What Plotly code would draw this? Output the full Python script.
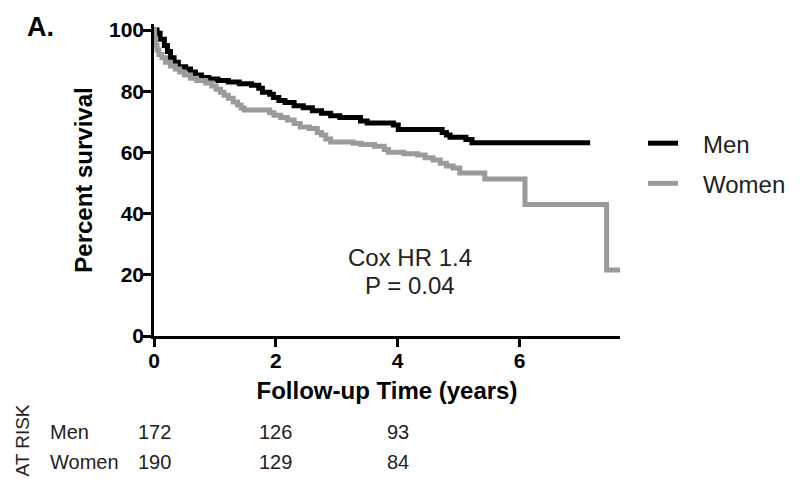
import plotly.graph_objects as go

# ---- data ----
men_t = [0, 0.05, 0.10, 0.17, 0.22, 0.27, 0.33, 0.40, 0.52, 0.60, 0.68, 0.78, 0.90,
         1.05, 1.22, 1.40, 1.60, 1.72, 1.78, 1.90, 1.96, 2.05, 2.15, 2.30, 2.45, 2.60,
         2.75, 2.90, 3.05, 3.39, 3.50, 3.93, 4.01, 4.73, 4.80, 4.86, 5.12, 5.22, 7.16]
men_s = [100, 99, 97, 95, 93, 91, 89.5, 88, 87.3, 86.3, 85.3, 84.5, 84,
         83.5, 83, 82.5, 82, 81, 79.7, 79, 78, 77, 76.3, 75.3, 74.6, 73.6,
         72.8, 72, 71.4, 70.3, 69.6, 69, 67.5, 66.5, 65.7, 65, 64.2, 63.2, 63.2]

women_t = [0, 0.01, 0.03, 0.05, 0.08, 0.13, 0.19, 0.27, 0.35, 0.42, 0.50, 0.60, 0.70,
           0.85, 0.95, 1.02, 1.09, 1.15, 1.22, 1.30, 1.37, 1.43, 1.48, 1.90, 1.97,
           2.08, 2.19, 2.30, 2.40, 2.55, 2.68, 2.75, 2.82, 2.90, 3.27, 3.40, 3.62,
           3.78, 3.85, 4.10, 4.33, 4.45, 4.58, 4.70, 4.80, 4.91, 5.02, 5.43, 6.09,
           7.43, 7.65]
women_s = [100, 97, 95, 93.5, 92, 91, 89.5, 88.3, 87.3, 86.3, 85.3, 84.3, 83.5,
           82.7, 81.7, 80.7, 79.7, 78.7, 77.7, 76.5, 75.5, 74.5, 73.9, 73.0, 72.2,
           71.4, 70.6, 69.5, 68.3, 67.8, 66.5, 65.7, 64.4, 63.4, 63.0, 62.6, 62.0,
           61.0, 60.1, 59.6, 59.2, 58.3, 57.5, 56.5, 55.6, 54.9, 53.3, 51.3, 43.0,
           21.6, 21.6]

risk_times = [0, 2, 4]
risk_men = [172, 126, 93]
risk_women = [190, 129, 84]

x_ticks = [0, 2, 4, 6]
y_ticks = [0, 20, 40, 60, 80, 100]

# ---- layout geometry (page has an 8px body margin) ----
OFF = 8
PAGE_W, PAGE_H = 800, 489
W, H = PAGE_W - OFF, PAGE_H - OFF
PLOT_LEFT, PLOT_RIGHT, PLOT_TOP, PLOT_BOTTOM = 153.5, 620, 23.9, 336  # page px
L = PLOT_LEFT - OFF
T = PLOT_TOP - OFF
R = W - (PLOT_RIGHT - OFF)
B = H - (PLOT_BOTTOM - OFF)
plot_w = W - L - R
plot_h = H - T - B

def px_to_paper_x(px):
    return (px - PLOT_LEFT) / plot_w

def px_to_paper_y(py):
    return (PLOT_BOTTOM - py) / plot_h

FONT = "Liberation Sans, Arial, sans-serif"
GRAY = "#9b9b9b"
NB = "\u00a0"

fig = go.Figure()
fig.add_trace(go.Scatter(x=men_t, y=men_s, mode="lines", line=dict(color="black", width=5, shape="hv"),
                         name=NB * 3 + "Men", legendgroup="m"))
fig.add_trace(go.Scatter(x=women_t, y=women_s, mode="lines", line=dict(color=GRAY, width=5, shape="hv"),
                         name=NB * 3 + "Women", legendgroup="w"))

annotations = []
# panel label
annotations.append(dict(text="<b>A.</b>", xref="paper", yref="paper", x=px_to_paper_x(40), y=px_to_paper_y(27),
                        xanchor="center", yanchor="middle", showarrow=False, font=dict(size=27, family=FONT, color="black")))
# Cox text
annotations.append(dict(text="Cox HR 1.4", xref="x", yref="y", x=4.21, y=25.8, xanchor="center", yanchor="middle",
                        showarrow=False, font=dict(size=24, family=FONT, color="#222")))
annotations.append(dict(text="P = 0.04", xref="x", yref="y", x=4.21, y=16.4, xanchor="center", yanchor="middle",
                        showarrow=False, font=dict(size=24, family=FONT, color="#222")))
# at risk table
annotations.append(dict(text="AT RISK", xref="paper", yref="paper", x=px_to_paper_x(22), y=px_to_paper_y(441),
                        xanchor="center", yanchor="middle", textangle=-90, showarrow=False,
                        font=dict(size=19, family=FONT, color="#222")))
for label, py in (("Men", 432), ("Women", 462)):
    annotations.append(dict(text=label, xref="paper", yref="paper", x=px_to_paper_x(47), y=px_to_paper_y(py),
                            xanchor="left", yanchor="middle", showarrow=False,
                            font=dict(size=20, family=FONT, color="#222")))
for t, m, w in zip(risk_times, risk_men, risk_women):
    annotations.append(dict(text=str(m), xref="x", yref="paper", x=t, y=px_to_paper_y(432),
                            xanchor="center", yanchor="middle", showarrow=False,
                            font=dict(size=20, family=FONT, color="#222")))
    annotations.append(dict(text=str(w), xref="x", yref="paper", x=t, y=px_to_paper_y(462),
                            xanchor="center", yanchor="middle", showarrow=False,
                            font=dict(size=20, family=FONT, color="#222")))

fig.update_layout(
    width=W, height=H,
    margin=dict(l=L, r=R, t=T, b=B, pad=0, autoexpand=False),
    paper_bgcolor="white", plot_bgcolor="white",
    font=dict(family=FONT, color="black"),
    showlegend=True,
    legend=dict(x=px_to_paper_x(643), y=px_to_paper_y(121), xanchor="left", yanchor="top",
                font=dict(size=24, family=FONT, color="#222"), itemwidth=30,
                traceorder="grouped", tracegroupgap=6, bgcolor="rgba(0,0,0,0)"),
    annotations=annotations,
    xaxis=dict(range=[0, 7.65], tickvals=x_ticks, ticktext=[str(v) for v in x_ticks], automargin=False,
               showgrid=False, zeroline=False, showline=True, linecolor="black", linewidth=2.5,
               ticks="outside", ticklen=8, tickwidth=2.5, tickcolor="black", ticklabelstandoff=-4,
               tickfont=dict(size=21, family=FONT, color="black", weight="bold"),
               title=dict(text="<b>Follow-up Time (years)</b>", font=dict(size=24, family=FONT, color="black"),
                          standoff=12)),
    yaxis=dict(range=[0, 102], tickvals=y_ticks, ticktext=[str(v) for v in y_ticks], automargin=False,
               showgrid=False, zeroline=False, showline=True, linecolor="black", linewidth=2.5,
               ticks="outside", ticklen=8, tickwidth=2.5, tickcolor="black", ticklabelstandoff=-5,
               tickfont=dict(size=21, family=FONT, color="black", weight="bold"),
               title=dict(text="<b>Percent survival</b>", font=dict(size=24, family=FONT, color="black"),
                          standoff=10)),
)

fig.write_html("out.html")
